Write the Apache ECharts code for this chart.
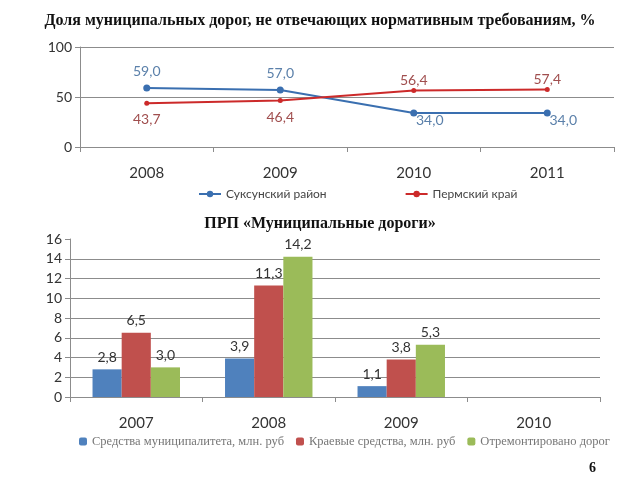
<!DOCTYPE html>
<html>
<head>
<meta charset="utf-8">
<script src="https://cdn.jsdelivr.net/npm/echarts@6/dist/echarts.min.js"></script>
<style>
  html, body { margin: 0; padding: 0; background: #fff; }
  #chart { width: 640px; height: 480px; }
</style>
</head>
<body>
<div id="chart"></div>
<script>
// top chart: share of roads not meeting standards, %
const lineYears = ['2008', '2009', '2010', '2011'];
const suksun = [59.0, 57.0, 34.0, 34.0];
const perm = [43.7, 46.4, 56.4, 57.4];
const lineNames = ['Суксунский район', 'Пермский край'];

// bottom chart: PRP "Municipal roads"
const barYears = ['2007', '2008', '2009', '2010'];
const municipal = [2.8, 3.9, 1.1, null];
const regional = [6.5, 11.3, 3.8, null];
const repaired = [3.0, 14.2, 5.3, null];
const barNames = ['Средства муниципалитета, млн. руб', 'Краевые средства, млн. руб', 'Отремонтировано дорог'];

const sans = 'Lato, "Open Sans", sans-serif';
const serif = '"Liberation Serif", "DejaVu Serif", serif';
const comma = v => v == null ? '' : Number(v).toFixed(1).replace('.', ',');

// label goes above when this series is the higher one at that point
function lineData(vals, other, up, down) {
    return vals.map((v, i) => ({ value: v, label: v >= other[i] ? up : down }));
}

const chart = echarts.init(document.getElementById('chart'));
const axisGray = '#8c8c8c';

chart.setOption({
    animation: false,
    backgroundColor: '#fff',
    title: [
        { text: 'Доля муниципальных дорог, не отвечающих нормативным требованиям, %', left: 'center', top: 8,
          textStyle: { fontFamily: serif, fontWeight: 'bold', fontSize: 16, color: '#111' } },
        { text: 'ПРП «Муниципальные дороги»', left: 'center', top: 211,
          textStyle: { fontFamily: serif, fontWeight: 'bold', fontSize: 16, color: '#111' } },
        { text: '6', left: 584, top: 456,
          textStyle: { fontFamily: serif, fontWeight: 'bold', fontSize: 14, color: '#111' } },
    ],
    legend: [
        { data: lineNames, top: 183, left: 193, itemGap: 78, itemWidth: 22, itemHeight: 8,
          textStyle: { fontFamily: sans, fontSize: 12, color: '#444' } },
        { data: barNames, top: 430, left: 74, itemGap: 12, itemWidth: 8, itemHeight: 8,
          textStyle: { fontFamily: serif, fontSize: 12.5, color: '#777' } },
    ],
    grid: [
        { left: 80, right: 26, top: 47, height: 100 },
        { left: 70, right: 40, top: 239, height: 158 },
    ],
    xAxis: [
        { type: 'category', gridIndex: 0, data: lineYears,
          axisLine: { lineStyle: { color: axisGray } },
          axisTick: { show: true, length: 5, lineStyle: { color: axisGray } },
          axisLabel: { fontFamily: sans, fontSize: 15, color: '#333', margin: 19 } },
        { type: 'category', gridIndex: 1, data: barYears,
          axisLine: { lineStyle: { color: axisGray } },
          axisTick: { show: true, length: 5, lineStyle: { color: axisGray } },
          axisLabel: { fontFamily: sans, fontSize: 15, color: '#333', margin: 19 } },
    ],
    yAxis: [
        { type: 'value', gridIndex: 0, min: 0, max: 100, interval: 50,
          axisLine: { show: true, lineStyle: { color: axisGray } },
          axisTick: { show: true, length: 5, lineStyle: { color: axisGray } },
          splitLine: { lineStyle: { color: axisGray } },
          axisLabel: { fontFamily: sans, fontSize: 14, color: '#333', margin: 8 } },
        { type: 'value', gridIndex: 1, min: 0, max: 16, interval: 2,
          axisLine: { show: true, lineStyle: { color: axisGray } },
          axisTick: { show: true, length: 5, lineStyle: { color: axisGray } },
          splitLine: { showMaxLine: false, lineStyle: { color: axisGray } },
          axisLabel: { fontFamily: sans, fontSize: 14, color: '#333', margin: 8 } },
    ],
    series: [
        { name: lineNames[0], type: 'line', xAxisIndex: 0, yAxisIndex: 0,
          data: lineData(suksun, perm, { position: 'top', distance: 6 }, { position: 'bottom', distance: -3, offset: [16, 0] }),
          symbol: 'circle', symbolSize: 7,
          lineStyle: { color: '#3a6fb0', width: 2 }, itemStyle: { color: '#3a6fb0' },
          label: { show: true, fontFamily: sans, fontSize: 14, color: '#5b80aa', formatter: p => comma(p.value) } },
        { name: lineNames[1], type: 'line', xAxisIndex: 0, yAxisIndex: 0,
          data: lineData(perm, suksun, { position: 'top', distance: 1 }, { position: 'bottom', distance: 7 }),
          symbol: 'circle', symbolSize: 5,
          lineStyle: { color: '#cc2a2a', width: 2 }, itemStyle: { color: '#cc2a2a' },
          label: { show: true, fontFamily: sans, fontSize: 14, color: '#a04e4e', formatter: p => comma(p.value) } },
        { name: barNames[0], type: 'bar', xAxisIndex: 1, yAxisIndex: 1, data: municipal,
          barGap: 0, barCategoryGap: '34%', itemStyle: { color: '#4f81bd' },
          label: { show: true, position: 'top', fontFamily: sans, fontSize: 14, color: '#333', formatter: p => comma(p.value) } },
        { name: barNames[1], type: 'bar', xAxisIndex: 1, yAxisIndex: 1, data: regional,
          barGap: 0, barCategoryGap: '34%', itemStyle: { color: '#c0504d' },
          label: { show: true, position: 'top', fontFamily: sans, fontSize: 14, color: '#333', formatter: p => comma(p.value) } },
        { name: barNames[2], type: 'bar', xAxisIndex: 1, yAxisIndex: 1, data: repaired,
          barGap: 0, barCategoryGap: '34%', itemStyle: { color: '#9bbb59' },
          label: { show: true, position: 'top', fontFamily: sans, fontSize: 14, color: '#333', formatter: p => comma(p.value) } },
    ],
});
</script>
</body>
</html>
